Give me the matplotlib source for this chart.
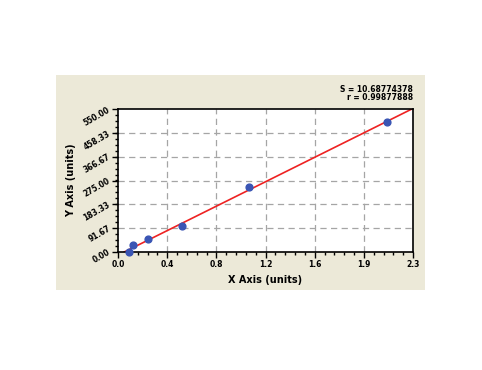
import numpy as np
import matplotlib
matplotlib.use("Agg")
import matplotlib.pyplot as plt
from matplotlib.ticker import AutoMinorLocator

# Data
x_vals = [0.088, 0.114, 0.236, 0.501, 1.021, 2.097]
y_vals = [0.0, 26.0, 49.0, 100.0, 250.0, 499.0]
x_ticks = [0.0, 2.3/6, 2*2.3/6, 3*2.3/6, 4*2.3/6, 5*2.3/6, 2.3]
x_labels = ["0.0", "0.4", "0.8", "1.2", "1.6", "1.9", "2.3"]
y_ticks = [0.0, 91.67, 183.33, 275.00, 366.67, 458.33, 550.00]
y_labels = ["0.00", "91.67", "183.33", "275.00", "366.67", "458.33", "550.00"]
stat_lines = ["S = 10.68774378", "r = 0.99877888"]

W, H = 482, 370
fig = plt.figure(figsize=(W/100, H/100), dpi=100)
fig.patch.set_facecolor("white")

# beige panel
bg = fig.add_axes([56/W, 1-290/H, (425-56)/W, (290-75)/H], zorder=-5)
bg.set_facecolor("#ECE9D8")
bg.set_xticks([]); bg.set_yticks([])
for sp in bg.spines.values():
    sp.set_visible(False)

ax = fig.add_axes([118/W, 1-252/H, (413-118)/W, (252-109)/H], zorder=1)
ax.set_facecolor("white")
ax.set_xlim(0, 2.3)
ax.set_ylim(0, 550)

# grid
for xt in x_ticks[1:-1]:
    ax.axvline(xt, color="#a5a5a5", lw=0.9, ls=(0, (5, 3.5)), zorder=1)
for yt in y_ticks[1:-1]:
    ax.axhline(yt, color="#a5a5a5", lw=0.9, ls=(0, (5, 3.5)), zorder=1)

# fit line
slope, intercept = np.polyfit(x_vals, y_vals, 1)
x0 = -intercept / slope
xs = np.array([x0, 2.3])
ax.plot(xs, slope*xs + intercept, color="#ee2222", lw=1.2, zorder=2, clip_on=True)

ax.scatter(x_vals, y_vals, s=24, color="#3a55b4", zorder=3, clip_on=False)

ax.set_xticks(x_ticks)
ax.set_xticklabels(x_labels, fontsize=5.5, fontweight="bold")
ax.set_yticks(y_ticks)
ax.set_yticklabels(y_labels, fontsize=5.5, fontweight="bold", rotation=30,
                   rotation_mode="anchor", ha="right", va="center")
ax.xaxis.set_minor_locator(AutoMinorLocator(5))
ax.yaxis.set_minor_locator(AutoMinorLocator(4))
ax.tick_params(which="major", direction="out", length=4, width=1, pad=2)
ax.tick_params(which="minor", direction="out", length=2, width=1)
for sp in ax.spines.values():
    sp.set_linewidth(1.2)

ax.set_xlabel("X Axis (units)", fontsize=7, fontweight="bold", labelpad=4)
ax.set_ylabel("Y Axis (units)", fontsize=7, fontweight="bold", labelpad=4)

fig.text(413/W, 1-89/H, stat_lines[0], fontsize=5.5, fontweight="bold",
         ha="right", va="center")
fig.text(413/W, 1-98/H, stat_lines[1], fontsize=5.5, fontweight="bold",
         ha="right", va="center")

fig.savefig("out.png", dpi=100)
